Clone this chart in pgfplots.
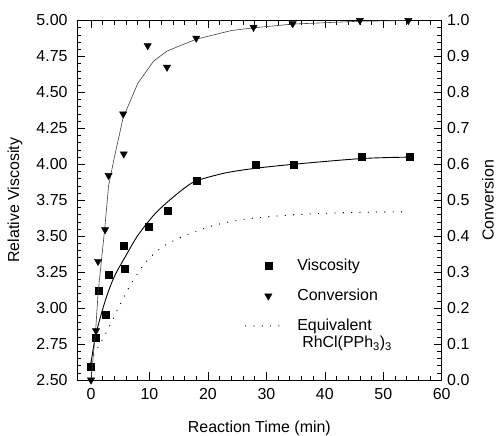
\documentclass[border=0pt]{standalone}
\usepackage{pgfplots}
\pgfplotsset{compat=1.18}
\usepackage{fontspec}
\setmainfont{Liberation Sans}
\pgfplotsset{dotleg/.style={legend image code/.code={\draw[##1] (-0.5cm,0cm) -- (0.84cm,0cm);}}}
\begin{document}
\fontsize{16}{19}\selectfont
\begin{tikzpicture}
\path[use as bounding box] (-77bp,-56bp) rectangle (420bp,380bp);
\pgfplotsset{
  every axis/.append style={
    scale only axis, width=364.7bp, height=359.5bp,
    xmin=-2.4, xmax=60,
    font=\fontsize{16}{19}\selectfont,
    tick label style={font=\fontsize{16}{19}\selectfont},
    /pgf/number format/assume math mode=true,
    tick style={black, line width=0.6bp},
    major tick length=8bp, minor tick length=4.5bp,
    axis line style={line width=0.8bp},
  },
}
\begin{axis}[
  at={(0,0)}, anchor=south west,
  ymin=2.5, ymax=5,
  axis y line*=left,
  xtick={0,10,20,30,40,50,60}, minor x tick num=4,
  ytick={2.5,2.75,3,3.25,3.5,3.75,4,4.25,4.5,4.75,5}, minor y tick num=4,
  yticklabel style={/pgf/number format/fixed, /pgf/number format/fixed zerofill, /pgf/number format/precision=2, xshift=-4bp},
  xticklabel style={yshift=-3bp},
  xlabel={Reaction Time (min)},
  ylabel={Relative Viscosity},
  xlabel style={at={(axis description cs:0.5,-0.1335)}, anchor=center},
  ylabel style={at={(axis description cs:-0.170,0.5)}, anchor=center},
  clip=false,
  legend style={draw=none, fill=none, at={(axis description cs:0.452,0.348)}, anchor=north west,
    row sep=12bp, font=\fontsize{16}{19}\selectfont,
    /tikz/every odd column/.append style={column sep=11bp}},
  legend cell align=left,
]
% fit line viscosity
\addplot[black, line width=0.9bp, smooth, forget plot] coordinates {
(0,2.62)(0.85,2.82)(2.5,3.06)(4,3.22)(5.9,3.36)(8,3.505)(10.7,3.645)(13,3.735)(16,3.835)(18.1,3.886)(23,3.94)(28.1,3.972)(34.6,4.0)(46.3,4.04)(54.6,4.05)};
% equivalent RhCl(PPh3)3
\addplot[black, line width=1.3bp, line cap=round, dash pattern=on 0pt off 8.3bp, smooth, forget plot] coordinates {
(0,2.62)(0.7,2.69)(2.2,2.80)(3.5,2.90)(4.3,2.97)(5.3,3.05)(6.3,3.13)(7.3,3.20)(9,3.30)(10.3,3.36)(11.7,3.41)(13,3.445)(15.8,3.50)(21,3.575)(26.7,3.62)(35,3.65)(45,3.665)(54.5,3.67)};
% viscosity points
\addplot[only marks, mark=square*, mark size=3.5bp, black] coordinates {
(0,2.593)(0.85,2.795)(1.25,3.122)(2.5,2.953)(3.1,3.233)(5.6,3.435)(5.7,3.275)(9.85,3.565)(13.2,3.675)(18.1,3.886)(28.1,3.997)(34.6,4.0)(46.3,4.05)(54.6,4.05)};
\addlegendentry{Viscosity}
\addlegendimage{only marks, mark=triangle*, mark size=4.2bp, black, mark options={rotate=180}}
\addlegendentry{Conversion}
\addlegendimage{black, line width=1.3bp, line cap=round, dash pattern=on 0pt off 8.3bp, dotleg}
\addlegendentry{\rlap{\raisebox{-17bp}[0pt][0pt]{\hspace{5bp}RhCl(PPh\textsubscript{3})\textsubscript{3}}}Equivalent}
\end{axis}
\begin{axis}[
  at={(0,0)}, anchor=south west,
  ymin=0, ymax=1,
  axis x line=none, axis y line*=right,
  ytick={0,0.1,0.2,0.3,0.4,0.5,0.6,0.7,0.8,0.9,1.0}, minor y tick num=4,
  yticklabel style={/pgf/number format/fixed, /pgf/number format/fixed zerofill, /pgf/number format/precision=1},
  ylabel={Conversion},
  ylabel style={at={(axis description cs:1.127,0.5)}, anchor=center},
  clip=false,
]
\addplot[black!75, line width=0.6bp] coordinates {
(0,0)(0.8,0.14)(1.2,0.24)(2.4,0.43)(3.0,0.54)(4.0,0.62)(5.5,0.73)(8,0.825)(10.7,0.887)(13,0.915)(18,0.948)(24,0.972)(28,0.98)(34.5,0.99)(46,0.998)(54.5,1.0)};
\addplot[only marks, mark=triangle*, mark size=4.2bp, black, mark options={rotate=180}] coordinates {
(0,0.0)(0.85,0.137)(1.2,0.33)(2.4,0.418)(3.0,0.569)(5.5,0.74)(5.6,0.629)(9.7,0.93)(13.0,0.87)(18.0,0.951)(27.8,0.981)(34.5,0.991)(46.0,1.0)(54.3,1.0)};
\end{axis}
\end{tikzpicture}
\end{document}
